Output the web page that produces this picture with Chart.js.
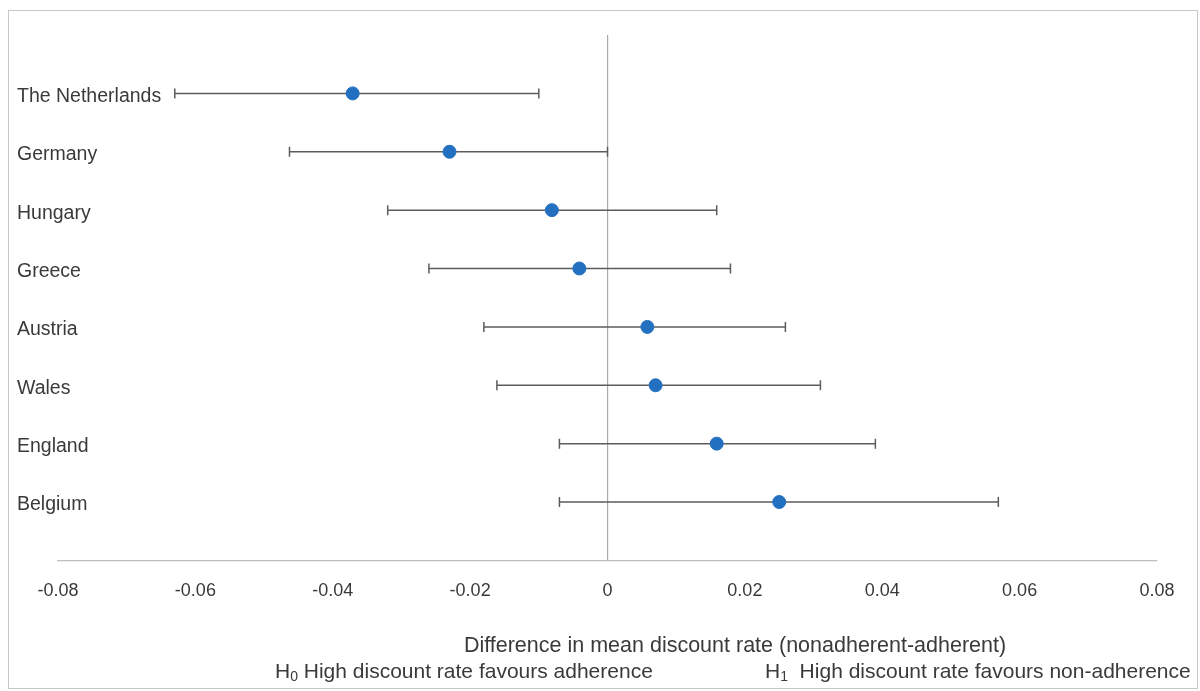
<!DOCTYPE html>
<html>
<head>
<meta charset="utf-8">
<script src="https://cdn.jsdelivr.net/npm/chart.js@4.4.1/dist/chart.umd.min.js"></script>
<style>
  html, body { margin: 0; padding: 0; background: #fff; }
  #wrap { position: relative; width: 1200px; height: 691px; }
</style>
</head>
<body>
<div id="wrap"><canvas id="forest"></canvas></div>
<script>
// forest plot data
const countries = ["The Netherlands", "Germany", "Hungary", "Greece", "Austria", "Wales", "England", "Belgium"];
const meanDiff = [-0.0371, -0.0230, -0.0081, -0.0041, 0.0058, 0.0070, 0.0159, 0.0250];
const lowerCI = [-0.0630, -0.0463, -0.0320, -0.0260, -0.0180, -0.0161, -0.0070, -0.0070];
const upperCI = [-0.0100, 0.0000, 0.0159, 0.0179, 0.0259, 0.0310, 0.0390, 0.0569];
const xTicks = [-0.08, -0.06, -0.04, -0.02, 0, 0.02, 0.04, 0.06, 0.08];

const axisTitle = "Difference in mean discount rate (nonadherent-adherent)";
const h0Text = " High discount rate favours adherence";
const h1Text = "  High discount rate favours non-adherence";

const textColor = "#3a3a3a";
const fontName = "'Liberation Sans', Arial, sans-serif";

// error bars under the points
const errorBars = {
  id: "errorBars",
  beforeDatasetsDraw(chart) {
    const { ctx, scales: { x, y } } = chart;
    ctx.save();
    ctx.strokeStyle = "#5c5c5c";
    ctx.lineWidth = 1.5;
    for (let i = 0; i < countries.length; i++) {
      const py = y.getPixelForValue(i);
      const x1 = x.getPixelForValue(lowerCI[i]);
      const x2 = x.getPixelForValue(upperCI[i]);
      ctx.beginPath();
      ctx.moveTo(x1, py); ctx.lineTo(x2, py);
      ctx.moveTo(x1, py - 5); ctx.lineTo(x1, py + 5);
      ctx.moveTo(x2, py - 5); ctx.lineTo(x2, py + 5);
      ctx.stroke();
    }
    ctx.restore();
  }
};

// country names, axis caption and the hypothesis lines
const extraText = {
  id: "extraText",
  afterDraw(chart) {
    const { ctx, scales: { y } } = chart;
    ctx.save();
    ctx.fillStyle = textColor;
    ctx.textBaseline = "middle";
    ctx.textAlign = "left";
    ctx.font = "19.5px " + fontName;
    countries.forEach((c, i) => {
      ctx.fillText(c, 17, y.getPixelForValue(i) + 3);
    });

    ctx.font = "21.5px " + fontName;
    ctx.textAlign = "center";
    ctx.fillText(axisTitle, 735, 646);

    // H0 / H1 with subscripts
    const drawH = (sub, rest, x0) => {
      ctx.textAlign = "left";
      ctx.font = "21px " + fontName;
      ctx.fillText("H", x0, 672);
      let cx = x0 + ctx.measureText("H").width;
      ctx.font = "14px " + fontName;
      ctx.fillText(sub, cx, 677);
      cx += ctx.measureText(sub).width;
      ctx.font = "21px " + fontName;
      ctx.fillText(rest, cx, 672);
    };
    drawH("0", h0Text, 275);
    drawH("1", h1Text, 765);

    // outer frame
    ctx.strokeStyle = "#c8c8c8";
    ctx.lineWidth = 1;
    ctx.strokeRect(8.5, 10.5, 1189, 678);
    ctx.restore();
  }
};

const ctx = document.getElementById("forest").getContext("2d");
new Chart(ctx, {
  type: "scatter",
  data: {
    datasets: [{
      label: "Mean difference",
      data: countries.map((c, i) => ({ x: meanDiff[i], y: i })),
      backgroundColor: "#2470c0",
      borderColor: "#2470c0",
      pointRadius: 6.5,
      pointHoverRadius: 6.5
    }]
  },
  options: {
    responsive: true,
    maintainAspectRatio: false,
    animation: false,
    layout: { padding: { left: 58, right: 43, top: 35, bottom: 69 } },
    plugins: { legend: { display: false }, tooltip: { enabled: false } },
    scales: {
      x: {
        type: "linear",
        min: -0.08,
        max: 0.08,
        afterBuildTicks(axis) { axis.ticks = xTicks.map(v => ({ value: v })); },
        grid: {
          drawTicks: false,
          color: c => (c.tick && c.tick.value === 0 ? "#a8a8a8" : "rgba(0,0,0,0)"),
          lineWidth: 1.2
        },
        border: { display: true, color: "#bdbdbd", width: 1.2 },
        ticks: {
          padding: 20,
          color: textColor,
          font: { family: fontName, size: 18 },
          callback: v => String(v)
        }
      },
      y: {
        type: "linear",
        display: false,
        min: -1,
        max: 8,
        reverse: true
      }
    }
  },
  plugins: [errorBars, extraText]
});
</script>
</body>
</html>
